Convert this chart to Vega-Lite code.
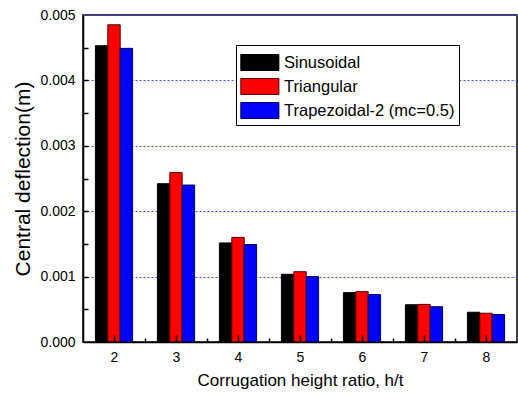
{
  "$schema": "https://vega.github.io/schema/vega-lite/v6.json",
  "width": 434,
  "height": 327,
  "autosize": "none",
  "padding": {"left": 83, "top": 15, "right": 1, "bottom": 54},
  "config": {
    "font": "Liberation Sans",
    "view": {"stroke": "black", "strokeWidth": 1.5},
    "background": "white"
  },
  "data": {
    "values": [
      {"h": 2, "series": "Sinusoidal", "v": 0.00453},
      {"h": 2, "series": "Triangular", "v": 0.00485},
      {"h": 2, "series": "Trapezoidal-2 (mc=0.5)", "v": 0.00449},
      {"h": 3, "series": "Sinusoidal", "v": 0.00242},
      {"h": 3, "series": "Triangular", "v": 0.00259},
      {"h": 3, "series": "Trapezoidal-2 (mc=0.5)", "v": 0.0024},
      {"h": 4, "series": "Sinusoidal", "v": 0.001515},
      {"h": 4, "series": "Triangular", "v": 0.0016},
      {"h": 4, "series": "Trapezoidal-2 (mc=0.5)", "v": 0.00149},
      {"h": 5, "series": "Sinusoidal", "v": 0.001035},
      {"h": 5, "series": "Triangular", "v": 0.001075},
      {"h": 5, "series": "Trapezoidal-2 (mc=0.5)", "v": 0.001},
      {"h": 6, "series": "Sinusoidal", "v": 0.000755},
      {"h": 6, "series": "Triangular", "v": 0.00077},
      {"h": 6, "series": "Trapezoidal-2 (mc=0.5)", "v": 0.000725},
      {"h": 7, "series": "Sinusoidal", "v": 0.00057},
      {"h": 7, "series": "Triangular", "v": 0.000575},
      {"h": 7, "series": "Trapezoidal-2 (mc=0.5)", "v": 0.00054},
      {"h": 8, "series": "Sinusoidal", "v": 0.000455},
      {"h": 8, "series": "Triangular", "v": 0.00044},
      {"h": 8, "series": "Trapezoidal-2 (mc=0.5)", "v": 0.00042}
    ]
  },
  "layer": [
    {
      "mark": {"type": "bar", "strokeWidth": 1},
      "encoding": {
        "x": {
          "field": "h",
          "type": "ordinal",
          "scale": {"paddingInner": 0.4, "paddingOuter": 0.2},
          "axis": null
        },
        "xOffset": {
          "field": "series",
          "type": "nominal",
          "sort": ["Sinusoidal", "Triangular", "Trapezoidal-2 (mc=0.5)"],
          "scale": {"paddingInner": 0, "paddingOuter": 0}
        },
        "y": {
          "field": "v",
          "type": "quantitative",
          "scale": {"domain": [0, 0.005], "nice": false},
          "axis": {
            "orient": "left",
            "values": [0, 0.001, 0.002, 0.003, 0.004, 0.005],
            "format": ".3f",
            "ticks": false,
            "domainColor": "black",
            "domainWidth": 1.5,
            "grid": true,
            "gridColor": "#4a4aff",
            "gridDash": [2, 2],
            "gridWidth": 1,
            "labelFontSize": 14,
            "labelColor": "black",
            "labelPadding": 8,
            "title": "Central deflection(m)",
            "titleFontSize": 21,
            "titleFontWeight": "normal",
            "titleColor": "black",
            "titlePadding": 6
          }
        },
        "fill": {
          "field": "series",
          "type": "nominal",
          "sort": ["Sinusoidal", "Triangular", "Trapezoidal-2 (mc=0.5)"],
          "scale": {
            "domain": ["Sinusoidal", "Triangular", "Trapezoidal-2 (mc=0.5)"],
            "range": ["#000000", "#ff0000", "#0000ff"]
          },
          "legend": {
            "title": null,
            "orient": "none",
            "legendX": 153,
            "legendY": 30,
            "strokeColor": "black",
            "fillColor": "white",
            "padding": 4,
            "symbolType": "M-1,-0.63H2V0.63H-1Z",
            "symbolSize": 645,
            "symbolOpacity": 1,
            "symbolStrokeColor": "black",
            "symbolStrokeWidth": 1,
            "labelFontSize": 16.5,
            "labelColor": "black",
            "labelOffset": 17,
            "rowPadding": -4,
            "labelLimit": 300
          }
        },
        "stroke": {
          "field": "series",
          "type": "nominal",
          "scale": {
            "domain": ["Sinusoidal", "Triangular", "Trapezoidal-2 (mc=0.5)"],
            "range": ["#000000", "#5a0000", "#00005a"]
          },
          "legend": null
        }
      }
    },
    {
      "mark": {"type": "point", "opacity": 0},
      "encoding": {
        "x": {
          "field": "h",
          "type": "quantitative",
          "scale": {"domain": [1.5, 8.5], "nice": false, "zero": false},
          "axis": {
            "orient": "bottom",
            "values": [2, 3, 4, 5, 6, 7, 8],
            "ticks": true,
            "tickSize": -7,
            "tickColor": "black",
            "tickWidth": 1.5,
            "domainColor": "black",
            "domainWidth": 1.5,
            "zindex": 2,
            "grid": false,
            "labelFontSize": 14,
            "labelColor": "black",
            "labelPadding": 15,
            "labelFlush": false,
            "title": "Corrugation height ratio, h/t",
            "titleFontSize": 17,
            "titleFontWeight": "normal",
            "titleColor": "black",
            "titlePadding": 8
          }
        }
      }
    },
    {
      "mark": {"type": "point", "opacity": 0},
      "encoding": {
        "x": {
          "field": "h",
          "type": "quantitative",
          "scale": {"domain": [1.5, 8.5], "nice": false, "zero": false},
          "axis": {
            "orient": "bottom",
            "offset": -4,
            "values": [2.5, 3.5, 4.5, 5.5, 6.5, 7.5],
            "ticks": true,
            "tickSize": 4,
            "tickColor": "black",
            "tickWidth": 1.5,
            "domain": false,
            "labels": false,
            "zindex": 2,
            "grid": false,
            "title": null
          }
        }
      }
    },
    {
      "mark": {"type": "point", "opacity": 0},
      "encoding": {
        "y": {
          "field": "v",
          "type": "quantitative",
          "scale": {"domain": [0, 0.005], "nice": false},
          "axis": {
            "orient": "left",
            "offset": -5,
            "values": [0.0005, 0.001, 0.0015, 0.002, 0.0025, 0.003, 0.0035, 0.004, 0.0045],
            "ticks": true,
            "tickSize": 5,
            "tickColor": "black",
            "tickWidth": 1.5,
            "domain": false,
            "labels": false,
            "zindex": 2,
            "grid": false,
            "title": null
          }
        }
      }
    }
  ],
  "resolve": {
    "scale": {"x": "independent", "y": "independent"},
    "axis": {"x": "independent", "y": "independent"}
  }
}
